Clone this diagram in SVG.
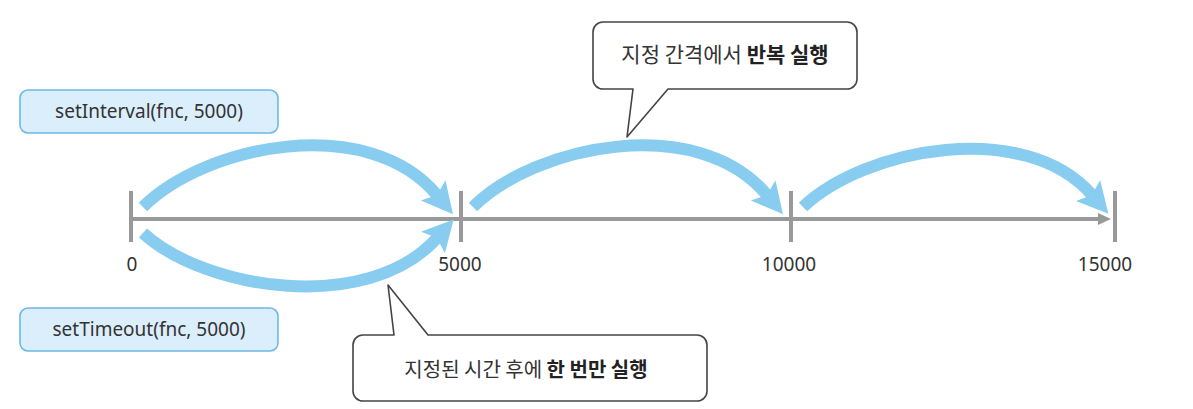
<svg xmlns="http://www.w3.org/2000/svg" width="1193" height="409" viewBox="0 0 1193 409">
  <defs>
    <style>
      .lbl { font-family: "Noto Sans", "Noto Sans CJK KR", sans-serif; font-size: 19px; fill: #333; }
      .num { font-family: "Noto Sans", "Noto Sans CJK KR", sans-serif; font-size: 19px; fill: #333; text-anchor: middle; }
      .ko { font-family: "Noto Sans CJK KR", sans-serif; fill: #333; text-anchor: middle; }
      .b { font-weight: bold; fill: #222; }
      .box { fill: #dbeefb; stroke: #6db8e6; stroke-width: 1.6; }
      .bubble { fill: #fff; stroke: #444; stroke-width: 1.6; stroke-linejoin: round; }
      .arc { fill: none; stroke: #88cdf0; stroke-width: 12; }
      .axis { stroke: #999; stroke-width: 4; fill: none; }
    </style>
    <marker id="blueArrow" markerUnits="userSpaceOnUse" viewBox="0 -17 32 34" markerWidth="32" markerHeight="34" refX="6" refY="0" orient="auto">
      <path d="M0,-16 L31,0 L0,16 L6,0 Z" fill="#88cdf0"/>
    </marker>
    <marker id="grayArrow" markerUnits="userSpaceOnUse" viewBox="0 -7 14 14" markerWidth="14" markerHeight="14" refX="2" refY="0" orient="auto">
      <path d="M0,-6 L13,0 L0,6 Z" fill="#999"/>
    </marker>
  </defs>

  <g id="axis">
    <line class="axis" x1="131" y1="219" x2="1100" y2="219" marker-end="url(#grayArrow)"/>
    <line class="axis" x1="131" y1="191" x2="131" y2="242"/>
    <line class="axis" x1="461" y1="191" x2="461" y2="242"/>
    <line class="axis" x1="791" y1="191" x2="791" y2="242"/>
    <line class="axis" x1="1115" y1="191" x2="1115" y2="242"/>
    <text class="num" x="132" y="271">0</text>
    <text class="num" x="460" y="271">5000</text>
    <text class="num" x="789" y="271">10000</text>
    <text class="num" x="1105" y="271">15000</text>
  </g>

  <g id="connectors">
    <path class="arc" d="M143,207 C205,145 368,112 437,195" marker-end="url(#blueArrow)"/>
    <path class="arc" d="M143,233 C205,290 368,315 437,238" marker-end="url(#blueArrow)"/>
    <path class="arc" d="M473,207 C535,145 698,112 767,195" marker-end="url(#blueArrow)"/>
    <path class="arc" d="M803,207 C865,148 1025,118 1092,195" marker-end="url(#blueArrow)"/>
  </g>

  <g id="setInterval">
    <rect class="box" x="20" y="90" width="258" height="43" rx="8"/>
    <text class="lbl" x="149" y="118" text-anchor="middle">setInterval(fnc, 5000)</text>
  </g>

  <g id="setTimeout">
    <rect class="box" x="20" y="308" width="258" height="43" rx="8"/>
    <text class="lbl" x="149" y="336" text-anchor="middle">setTimeout(fnc, 5000)</text>
  </g>

  <g id="callout-interval">
    <path class="bubble" d="M603,22 H847 A10,10 0 0 1 857,32 V79 A10,10 0 0 1 847,89 H668 L627,137 L633,89 H603 A10,10 0 0 1 593,79 V32 A10,10 0 0 1 603,22 Z"/>
    <text class="ko" x="725" y="62" font-size="21">지정 간격에서 <tspan class="b">반복 실행</tspan></text>
  </g>

  <g id="callout-timeout">
    <path class="bubble" d="M363,335 H394 L388,285 L428,335 H697 A10,10 0 0 1 707,345 V391 A10,10 0 0 1 697,401 H363 A10,10 0 0 1 353,391 V345 A10,10 0 0 1 363,335 Z"/>
    <text class="ko" x="526" y="377" font-size="20">지정된 시간 후에 <tspan class="b">한 번만 실행</tspan></text>
  </g>
</svg>
